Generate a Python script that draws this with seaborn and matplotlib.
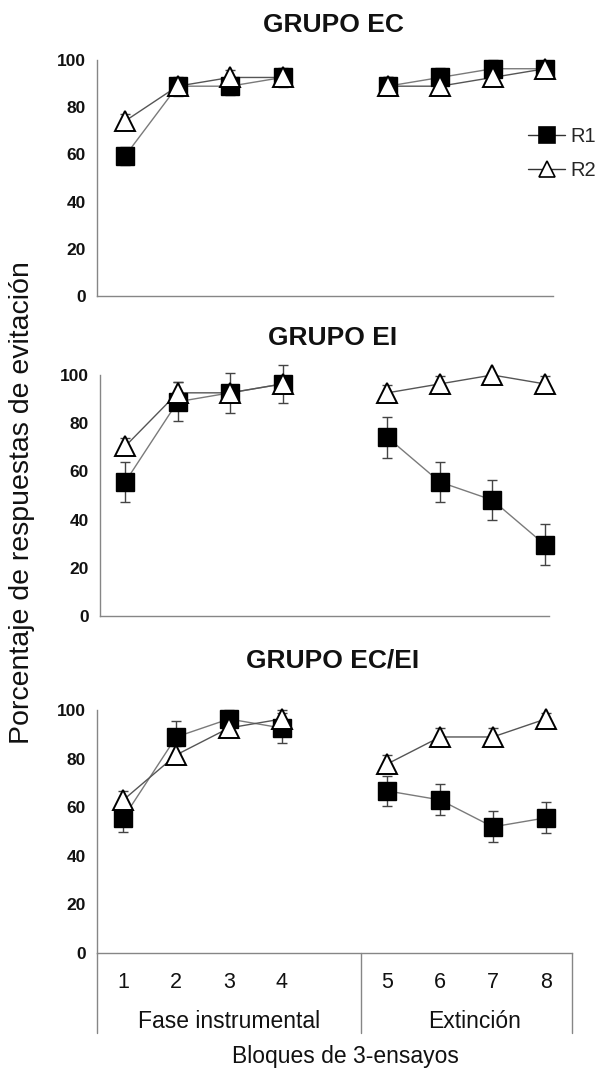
import numpy as np
import pandas as pd
import seaborn as sns
import matplotlib
matplotlib.use("Agg")
import matplotlib.pyplot as plt
from matplotlib.lines import Line2D

# datos (porcentaje de respuestas de evitacion)
bloques = [1, 2, 3, 4, 5, 6, 7, 8]
grupos = ["GRUPO EC", "GRUPO EI", "GRUPO EC/EI"]

ec_r1 = [59.3, 88.9, 88.9, 92.6, 88.9, 92.6, 96.3, 96.3]
ec_r1_err = [3.7, 4.0, 3.7, 4.0, 3.7, 4.0, 3.7, 2.5]
ec_r2 = [74.1, 88.9, 92.6, 92.6, 88.9, 88.9, 92.6, 96.3]
ec_r2_err = [3.0, 3.0, 3.0, 3.0, 3.7, 3.0, 3.0, 2.5]

ei_r1 = [55.6, 88.9, 92.6, 96.3, 74.1, 55.6, 48.1, 29.6]
ei_r1_err = [8.4, 8.0, 8.2, 8.0, 8.4, 8.4, 8.4, 8.4]
ei_r2 = [70.4, 92.6, 92.6, 96.3, 92.6, 96.3, 100.0, 96.3]
ei_r2_err = [3.4, 4.6, 3.0, 3.0, 3.4, 3.4, 0.0, 3.4]

ecei_r1 = [55.6, 88.9, 96.3, 92.6, 66.7, 63.0, 51.9, 55.6]
ecei_r1_err = [6.0, 6.7, 3.7, 6.3, 6.2, 6.4, 6.4, 6.4]
ecei_r2 = [63.0, 81.5, 92.6, 96.3, 77.8, 88.9, 88.9, 96.3]
ecei_r2_err = [3.7, 3.8, 3.7, 3.7, 3.8, 3.7, 3.7, 2.5]

fases = ["Fase instrumental", "Extinción"]
tick_labels = ["1", "2", "3", "4", "5", "6", "7", "8"]

valores = {
    ("GRUPO EC", "R1"): (ec_r1, ec_r1_err),
    ("GRUPO EC", "R2"): (ec_r2, ec_r2_err),
    ("GRUPO EI", "R1"): (ei_r1, ei_r1_err),
    ("GRUPO EI", "R2"): (ei_r2, ei_r2_err),
    ("GRUPO EC/EI", "R1"): (ecei_r1, ecei_r1_err),
    ("GRUPO EC/EI", "R2"): (ecei_r2, ecei_r2_err),
}

filas = []
for (g, r), (v, e) in valores.items():
    for b, y, err in zip(bloques, v, e):
        filas.append({"grupo": g, "resp": r, "bloque": b,
                      "pct": y, "err": err,
                      "fase": fases[0] if b <= 4 else fases[1]})
df = pd.DataFrame(filas)
# hueco de una categoria entre las dos fases (como en Excel)
df["x"] = df["bloque"] + (df["bloque"] > 4)

sns.set_style("white")
plt.rcParams["font.family"] = ["Liberation Sans", "DejaVu Sans"]

W, H = 611, 1075
fig = plt.figure(figsize=(6.11, 10.75), dpi=100)

gris = "#868686"
# [izq, der, arriba(100), abajo(0)] en pixeles
cajas = [(97, 553, 60, 296), (100, 549, 375, 616), (97, 572, 710, 953)]
xlims = [(0.467, 9.15), (0.52, 9.08), (0.5, 9.5)]
titulos_y = [25, 338, 660]

estilo = {
    "R1": dict(marker="s", ms=13.5, mfc="black", mec="black", mew=1.0, z=3),
    "R2": dict(marker="^", ms=14, mfc="white", mec="black", mew=1.4, z=4),
}

for i, g in enumerate(grupos):
    l, r, t, b = cajas[i]
    ax = fig.add_axes([l / W, 1 - b / H, (r - l) / W, (b - t) / H])
    sub = df[df.grupo == g]
    sns.lineplot(data=sub, x="x", y="pct", hue="resp", units="fase",
                 estimator=None, palette={"R1": "#7a7a7a", "R2": "#555555"},
                 lw=1.0, legend=False, ax=ax, zorder=1)
    for resp in ["R1", "R2"]:
        s = sub[sub.resp == resp]
        st = estilo[resp]
        ax.errorbar(s.x, s.pct, yerr=s.err, fmt="none", ecolor="#444444",
                    elinewidth=1.0, capsize=3.5, capthick=1.0, zorder=2,
                    clip_on=False)
        ax.plot(s.x, s.pct, ls="none", marker=st["marker"], ms=st["ms"],
                mfc=st["mfc"], mec=st["mec"], mew=st["mew"], zorder=st["z"],
                clip_on=False)

    ax.set_xlim(*xlims[i])
    ax.set_ylim(0, 100)
    ax.set_yticks(range(0, 101, 20))
    ax.set_yticklabels([str(v) for v in range(0, 101, 20)],
                       fontweight="bold", fontsize=12.5, color="#111111")
    ax.tick_params(axis="y", length=0, pad=8)
    ax.set_xlabel("")
    ax.set_ylabel("")
    for sp in ["top", "right"]:
        ax.spines[sp].set_visible(False)
    for sp in ["left", "bottom"]:
        ax.spines[sp].set_color(gris)
        ax.spines[sp].set_linewidth(1.0)

    if i < 2:
        ax.set_xticks([])
    else:
        pos = sorted(sub.x.unique())
        ax.set_xticks(pos)
        ax.set_xticklabels(tick_labels, fontsize=15.5, color="#111111")
        ax.tick_params(axis="x", length=0, pad=14)
        tr = ax.get_xaxis_transform()
        for xv in [0.5, 5.5, 9.5]:
            ax.plot([xv, xv], [0, -0.33], transform=tr, clip_on=False,
                    color=gris, lw=1.0)
        ax.text(3.0, -0.28, fases[0], transform=tr, ha="center",
                va="center", fontsize=16.5, color="#111111")
        ax.text(7.65, -0.28, fases[1], transform=tr, ha="center",
                va="center", fontsize=16.5, color="#111111")

    fig.text(333 / W, 1 - titulos_y[i] / H, g, ha="center", va="center",
             fontsize=19, fontweight="bold", color="#111111")

    if i == 0:
        handles = [Line2D([], [], color="#333333", lw=1.0,
                          marker=estilo[k]["marker"], ms=11,
                          mfc=estilo[k]["mfc"], mec="black", mew=1.2)
                   for k in ["R1", "R2"]]
        fig.legend(handles, ["R1", "R2"], loc="upper left",
                   bbox_to_anchor=(528 / W, 1 - 127 / H), frameon=False,
                   fontsize=14.5, handlelength=1.85, handletextpad=0.25,
                   labelspacing=0.75, borderaxespad=0, borderpad=0)

fig.text(22 / W, 1 - 503 / H, "Porcentaje de respuestas de evitación",
         rotation=90, ha="center", va="center", fontsize=20.5, color="#111111")
fig.text(345 / W, 1 - 1057 / H, "Bloques de 3-ensayos", ha="center",
         va="center", fontsize=16.5, color="#111111")

fig.savefig("out.png", dpi=100)
